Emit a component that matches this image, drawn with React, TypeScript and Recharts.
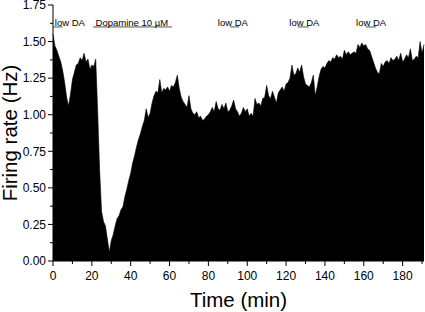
import React from "react";
import {
  AreaChart,
  Area,
  XAxis,
  YAxis,
  ReferenceLine,
  ReferenceDot,
} from "recharts";

// firing rate (Hz), one sample per minute
const baselineRates = [
  1.55, 1.47, 1.44, 1.4, 1.36, 1.3, 1.22, 1.12, 1.06, 1.14, 1.24, 1.29, 1.34,
  1.35, 1.39, 1.37, 1.42, 1.36, 1.38, 1.31, 1.34, 1.33, 1.38,
];
const dopamineRates = [
  1.02, 0.62, 0.34, 0.27, 0.24, 0.15, 0.06, 0.14, 0.18, 0.24, 0.29, 0.31, 0.35,
  0.37, 0.44, 0.49, 0.55, 0.6, 0.67, 0.72, 0.78, 0.83, 0.87, 0.92, 0.96, 1.04,
  0.98, 1.01, 1.08, 1.13, 1.16, 1.15, 1.24, 1.15, 1.18, 1.17, 1.19, 1.16, 1.2,
];
const washRates = [
  1.19, 1.22, 1.27, 1.18, 1.12, 1.09, 1.07, 1.05, 1.13, 1.04, 1.01, 1.0, 1.02,
  0.98, 0.99, 0.96, 0.97, 0.99, 1.0, 1.02, 1.05, 1.02, 1.09, 1.04, 1.03, 1.07,
  1.04, 1.08, 1.02, 1.03, 1.06, 1.1, 1.04, 1.02, 0.99, 1.01, 1.05, 1.02, 1.04,
  0.99, 1.01, 0.99, 1.11, 1.07, 1.08, 1.06, 1.11, 1.12, 1.2, 1.13, 1.11, 1.16,
  1.12, 1.08, 1.15, 1.17, 1.19, 1.16,
];
const lateRates = [
  1.21, 1.22, 1.25, 1.34, 1.27, 1.28, 1.32, 1.29, 1.34, 1.26, 1.21, 1.2, 1.19,
  1.22, 1.27, 1.13, 1.19, 1.26, 1.31, 1.33, 1.32, 1.35, 1.37, 1.36, 1.39, 1.38,
  1.41, 1.39, 1.4, 1.38, 1.44, 1.41, 1.43, 1.41, 1.42, 1.43, 1.42, 1.48, 1.46,
  1.49, 1.47, 1.48, 1.45, 1.44, 1.4, 1.36, 1.32, 1.29, 1.28, 1.35, 1.33, 1.36,
  1.37, 1.35, 1.39, 1.37, 1.38, 1.4, 1.37, 1.42, 1.36, 1.38, 1.41, 1.39, 1.45,
  1.37, 1.38, 1.4, 1.39, 1.5, 1.42, 1.48,
];

const rates = [...baselineRates, ...dopamineRates, ...washRates, ...lateRates];
const data = rates.map((rate, i) => ({ t: i, rate }));

// drug application bars (min) and their captions
const applications = [
  { start: 0, end: 5, label: "low DA", labelAt: 8.7 },
  { start: 20.6, end: 61.3, label: "Dopamine 10 µM", labelAt: 40.6 },
  { start: 91.2, end: 95.8, label: "low DA", labelAt: 92.6 },
  { start: 126, end: 131.7, label: "low DA", labelAt: 129.4 },
  { start: 161, end: 166.3, label: "low DA", labelAt: 163.8 },
];

const xTicks = [
  0, 10, 20, 30, 40, 50, 60, 70, 80, 90, 100, 110, 120, 130, 140, 150, 160,
  170, 180, 190,
];
const yTicks = [
  0, 0.125, 0.25, 0.375, 0.5, 0.625, 0.75, 0.875, 1, 1.125, 1.25, 1.375, 1.5,
  1.625, 1.75,
];

const FONT = "'Liberation Sans', Arial, sans-serif";

const YTick = ({ x, y, payload }: any) => {
  const v = payload.value;
  const major = Math.abs(v / 0.25 - Math.round(v / 0.25)) < 1e-6;
  return (
    <g>
      <line x1={x} x2={x - (major ? 5 : 3)} y1={y} y2={y} stroke="#000" />
      {major && (
        <text
          x={x - 7}
          y={y}
          dy={4.3}
          textAnchor="end"
          fontSize={12}
          fontFamily={FONT}
          fill="#000"
        >
          {v.toFixed(2)}
        </text>
      )}
    </g>
  );
};

const XTick = ({ x, y, payload }: any) => {
  const v = payload.value;
  const major = v % 20 === 0;
  return (
    <g>
      <line x1={x} x2={x} y1={y} y2={y + (major ? 5 : 3)} stroke="#000" />
      {major && (
        <text
          x={x}
          y={y + 18.5}
          textAnchor="middle"
          fontSize={12}
          fontFamily={FONT}
          fill="#000"
        >
          {v}
        </text>
      )}
    </g>
  );
};

const App = () => {
  return (
    <div style={{ position: "absolute", left: 0, top: 0, background: "#fff" }}>
      <AreaChart
        width={425}
        height={312}
        data={data}
        margin={{ top: 5, right: 1, left: 0, bottom: 0 }}
      >
        <XAxis
          dataKey="t"
          type="number"
          domain={[0, 191]}
          ticks={xTicks}
          interval={0}
          tickSize={0}
          tickMargin={0}
          tickLine={false}
          tick={<XTick />}
          height={51}
          axisLine={{ stroke: "#000" }}
          label={{
            value: "Time (min)",
            position: "insideBottom",
            offset: 5,
            fontSize: 20.5,
            fontFamily: FONT,
            fill: "#000",
          }}
        />
        <YAxis
          type="number"
          domain={[0, 1.75]}
          ticks={yTicks}
          interval={0}
          tickSize={0}
          tickMargin={0}
          tickLine={false}
          tick={<YTick />}
          width={53}
          axisLine={{ stroke: "#000" }}
          label={{
            content: ({ viewBox }: any) => {
              const cy = viewBox.y + viewBox.height / 2;
              return (
                <text
                  x={17}
                  y={cy}
                  transform={`rotate(-90, 17, ${cy})`}
                  textAnchor="middle"
                  fontSize={20.5}
                  fontFamily={FONT}
                  fill="#000"
                >
                  Firing rate (Hz)
                </text>
              );
            },
          }}
        />
        <Area
          type="linear"
          dataKey="rate"
          stroke="#000"
          strokeWidth={0.6}
          fill="#000"
          fillOpacity={1}
          isAnimationActive={false}
        />
        {applications.map((a, i) => (
          <ReferenceLine
            key={`bar-${i}`}
            segment={[
              { x: a.start, y: 1.6 },
              { x: a.end, y: 1.6 },
            ]}
            stroke="#555"
            strokeWidth={1}
            ifOverflow="visible"
          />
        ))}
        {applications.map((a, i) => (
          <ReferenceDot
            key={`lbl-${i}`}
            x={a.labelAt}
            y={1.627}
            r={0}
            fill="none"
            stroke="none"
            ifOverflow="visible"
            label={{
              value: a.label,
              position: "center",
              fontSize: 9.5,
              fontFamily: FONT,
              fill: "#000",
            }}
          />
        ))}
      </AreaChart>
    </div>
  );
};

export default App;
